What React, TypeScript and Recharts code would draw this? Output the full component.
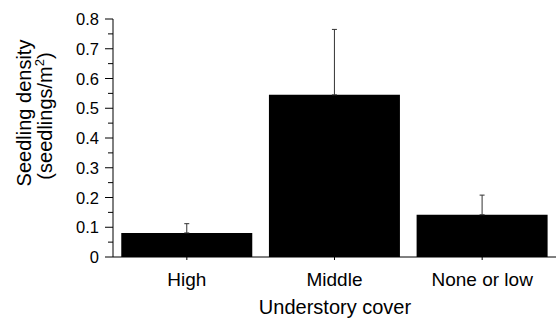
import React from "react";
import { BarChart, Bar, XAxis, YAxis, ErrorBar } from "recharts";

const categories = ["High", "Middle", "None or low"];
const densities = [0.081, 0.545, 0.142];
const errorsUp = [0.031, 0.22, 0.066];
const yTicks = [0, 0.05, 0.1, 0.15, 0.2, 0.25, 0.3, 0.35, 0.4, 0.45, 0.5, 0.55, 0.6, 0.65, 0.7, 0.75, 0.8];

const data = categories.map((c, i) => ({
  cover: c,
  density: densities[i],
  err: [0, errorsUp[i]],
}));

const FONT = "'Liberation Sans', Arial, Helvetica, sans-serif";

const YTick = (props: any) => {
  const { x, y, payload } = props;
  const v = payload.value as number;
  const major = Math.round(v * 100) % 10 === 0;
  const label = v === 0 ? "0" : v.toFixed(1);
  return (
    <g>
      <line x1={x - (major ? 8 : 5)} x2={x} y1={y} y2={y} stroke="#000" strokeWidth={1} />
      {major && (
        <text x={x - 14} y={y} dy={6} textAnchor="end" fontSize={16.5} fontFamily={FONT} fill="#000">
          {label}
        </text>
      )}
    </g>
  );
};

const YLabel = () => (
  <g>
    <text
      transform="translate(31,113) rotate(-90)"
      textAnchor="middle"
      fontSize={20}
      fontFamily={FONT}
      fill="#000"
    >
      Seedling density
    </text>
    <text
      transform="translate(52,116) rotate(-90)"
      textAnchor="middle"
      fontSize={20}
      fontFamily={FONT}
      fill="#000"
    >
      (seedlings/m
      <tspan dy={-8} fontSize={13}>2</tspan>
      <tspan dy={8}>)</tspan>
    </text>
  </g>
);

const XLabel = () => (
  <text x={335} y={314} textAnchor="middle" fontSize={20} fontFamily={FONT} fill="#000">
    Understory cover
  </text>
);

export default function App() {
  return (
    <div style={{ position: "absolute", left: 0, top: 0, background: "#fff" }}>
      <BarChart
        width={558}
        height={320}
        data={data}
        margin={{ top: 19, right: 2, left: 0, bottom: 0 }}
        barCategoryGap="5.6%"
      >
        <XAxis
          dataKey="cover"
          height={63}
          tickSize={3}
          tickMargin={13}
          axisLine={{ stroke: "#000" }}
          tickLine={{ stroke: "#000" }}
          tick={{ fontSize: 19, fontFamily: FONT, fill: "#000" }}
          label={<XLabel />}
        />
        <XAxis xAxisId="top" dataKey="cover" orientation="top" height={0} tick={false} tickLine={false} axisLine={{ stroke: "#000" }} />
        <YAxis
          width={113}
          domain={[0, 0.8]}
          ticks={yTicks}
          interval={0}
          tickSize={0}
          tickMargin={0}
          tickLine={false}
          axisLine={{ stroke: "#000" }}
          tick={<YTick />}
          label={<YLabel />}
        />
        <YAxis yAxisId="right" orientation="right" width={0} tick={false} tickLine={false} axisLine={{ stroke: "#000" }} />
        <Bar dataKey="density" fill="#000" isAnimationActive={false}>
          <ErrorBar dataKey="err" width={2.5} stroke="#333" strokeWidth={1} direction="y" isAnimationActive={false} />
        </Bar>
      </BarChart>
    </div>
  );
}
